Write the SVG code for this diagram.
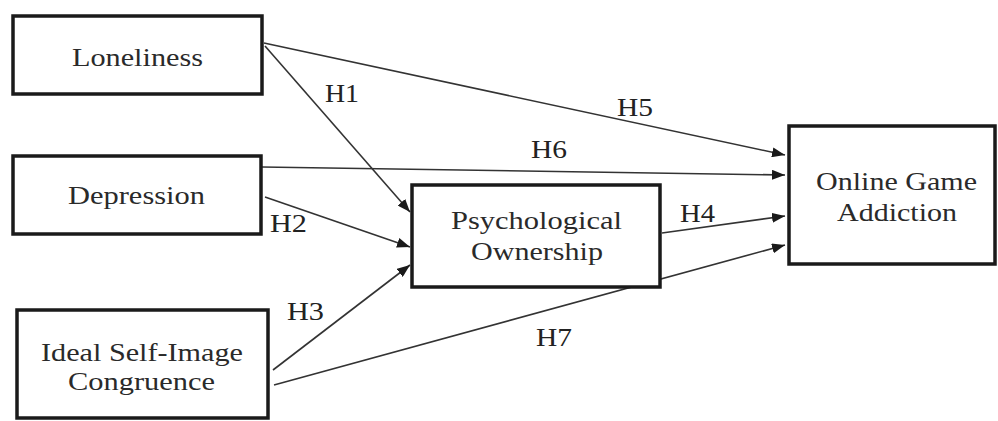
<svg xmlns="http://www.w3.org/2000/svg" width="998" height="421" viewBox="0 0 998 421" font-family="Liberation Serif, Times New Roman, serif">
<defs>
<marker id="ah" markerUnits="userSpaceOnUse" markerWidth="14" markerHeight="10" refX="13" refY="5" orient="auto">
<path d="M0,0 L13,5 L0,10 Z" fill="#1a1a1a"/>
</marker>
<style>
.box{fill:#fff;stroke:#1a1a1a;stroke-width:3.5}
.t{font-family:Liberation Serif, serif;font-size:26px;fill:#2a2a2a;text-anchor:middle}
.lb{font-family:Liberation Serif, serif;font-size:25px;fill:#222}
.c{stroke:#333;stroke-width:1.6;fill:none;marker-end:url(#ah)}
</style>
</defs>
<rect width="998" height="421" fill="#fff"/>
<g id="connectors">
<line class="c" x1="264" y1="43" x2="785" y2="155"/>
<line class="c" x1="265" y1="46" x2="410" y2="212"/>
<line class="c" x1="262" y1="167" x2="785" y2="175"/>
<line class="c" x1="265" y1="197" x2="410" y2="247"/>
<line class="c" x1="273" y1="370" x2="410" y2="265"/>
<line class="c" x1="274" y1="385" x2="785" y2="245"/>
<line class="c" x1="662" y1="233" x2="785" y2="216"/>
<text class="lb" x="325" y="102" textLength="34" lengthAdjust="spacingAndGlyphs">H1</text>
<text class="lb" x="270" y="232" textLength="37" lengthAdjust="spacingAndGlyphs">H2</text>
<text class="lb" x="287" y="320" textLength="37" lengthAdjust="spacingAndGlyphs">H3</text>
<text class="lb" x="680" y="222" textLength="35" lengthAdjust="spacingAndGlyphs">H4</text>
<text class="lb" x="617" y="116" textLength="36" lengthAdjust="spacingAndGlyphs">H5</text>
<text class="lb" x="531" y="158" textLength="36" lengthAdjust="spacingAndGlyphs">H6</text>
<text class="lb" x="536" y="346" textLength="36" lengthAdjust="spacingAndGlyphs">H7</text>
</g>
<g id="loneliness">
<rect class="box" x="13" y="16" width="249" height="78"/>
<text class="t" x="137.5" y="66" textLength="131" lengthAdjust="spacingAndGlyphs">Loneliness</text>
</g>
<g id="depression">
<rect class="box" x="13" y="156" width="248" height="78"/>
<text class="t" x="136.5" y="204" textLength="137" lengthAdjust="spacingAndGlyphs">Depression</text>
</g>
<g id="ideal">
<rect class="box" x="17" y="310" width="251" height="108"/>
<text class="t" x="142" y="361" textLength="202" lengthAdjust="spacingAndGlyphs">Ideal Self-Image</text>
<text class="t" x="141.5" y="390" textLength="147" lengthAdjust="spacingAndGlyphs">Congruence</text>
</g>
<g id="psych">
<rect class="box" x="412" y="185" width="248" height="102"/>
<text class="t" x="536.5" y="229" textLength="171" lengthAdjust="spacingAndGlyphs">Psychological</text>
<text class="t" x="537" y="260" textLength="132" lengthAdjust="spacingAndGlyphs">Ownership</text>
</g>
<g id="oga">
<rect class="box" x="789" y="126" width="206" height="138"/>
<text class="t" x="896.5" y="190" textLength="161" lengthAdjust="spacingAndGlyphs">Online Game</text>
<text class="t" x="897" y="221" textLength="120" lengthAdjust="spacingAndGlyphs">Addiction</text>
</g>
</svg>
